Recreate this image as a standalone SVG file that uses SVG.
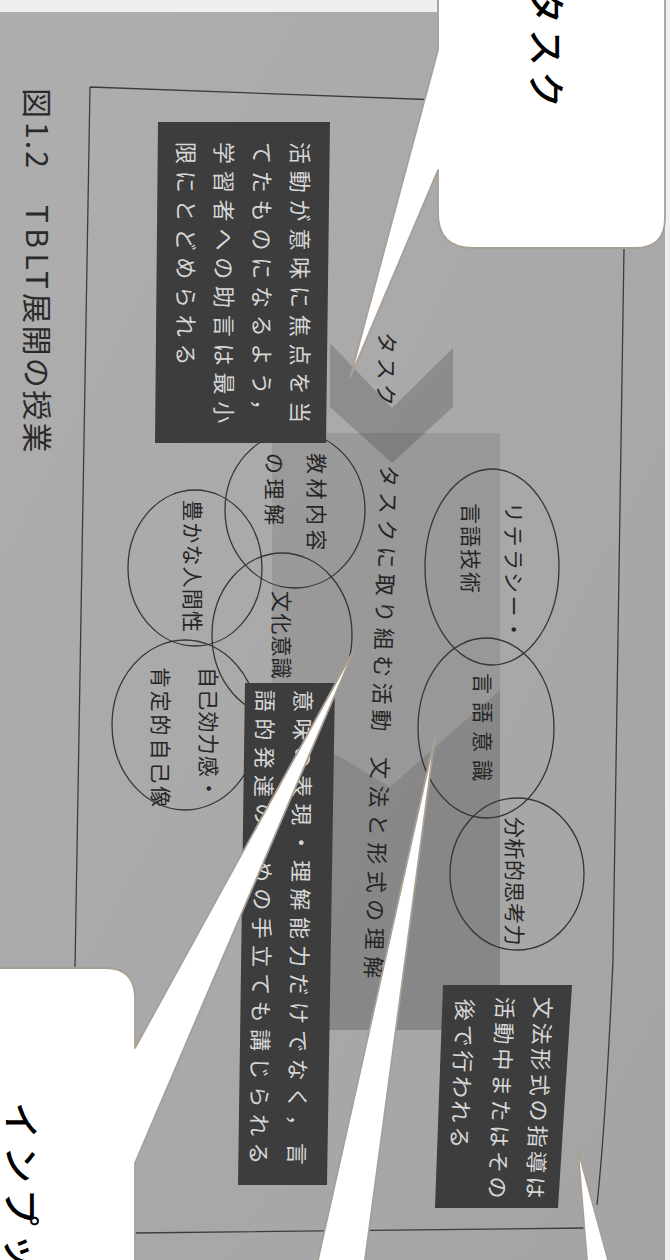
<svg xmlns="http://www.w3.org/2000/svg" width="670" height="1260" viewBox="0 0 670 1260">
<defs>
<linearGradient id="photo" x1="0" y1="0" x2="1" y2="1">
<stop offset="0" stop-color="#aeaeae"/><stop offset="1" stop-color="#a4a4a4"/>
</linearGradient>
<style>
.jp{font-family:"Noto Sans CJK JP","Noto Sans",sans-serif;dominant-baseline:central}
.frame{fill:none;stroke:#3c3c3c;stroke-width:1.3}
.ell{fill:none;stroke:#363636;stroke-width:1.3}
.box{fill:#3d3d3d}
.wt{fill:#d6d6d6;font-size:22px}
.dk{fill:#252525;font-size:22px}
.el{fill:#252525;font-size:21px}
.bub{fill:#fff;stroke:#a99f93;stroke-width:1.8;stroke-linejoin:round}
.bt{fill:#000;font-size:37px;font-weight:500}
</style>
</defs>
<g id="photo-bg">
<rect width="670" height="1260" fill="#efefef"/>
<rect x="0" y="12" width="665" height="1248" fill="url(#photo)"/>
</g>
<g id="page-frame">
<path class="frame" d="M90,87 L440,100 L625,107 M90,87 L75,968 M624,248 L613,960 Q606,1120 597,1205 M135,1233 L585,1228"/>
</g>
<g id="caption">
<text class="jp" fill="#2a2a2a" font-size="30" transform="translate(39,88) rotate(90)">図</text>
<text class="jp" fill="#2a2a2a" font-size="30" transform="translate(39,122) rotate(90)" textLength="46">1.2</text>
<text class="jp" fill="#2a2a2a" font-size="30" transform="translate(39,205) rotate(90)" textLength="84">TBLT</text>
<text class="jp" fill="#2a2a2a" font-size="30" transform="translate(39,293) rotate(90)" style="letter-spacing:2.4px">展開の授業</text>
</g>
<g id="band">
<rect x="272" y="433" width="228" height="597" fill="#000" fill-opacity="0.09"/>
<polygon points="272,716 390,787 500,690 500,1030 272,1030" fill="#000" fill-opacity="0.1"/>
</g>
<g id="chevron-task">
<polygon points="330,343 392,408 453,348 453,407 392,463 330,407" fill="#000" fill-opacity="0.17"/>
<text class="jp dk" font-size="21" transform="translate(389,332) rotate(91)" style="letter-spacing:4px">タスク</text>
</g>
<g id="activity-label">
<text class="jp dk" transform="translate(391,465) rotate(91.8)" style="letter-spacing:5.2px">タスクに取り組む活動</text>
<text class="jp dk" transform="translate(382,757) rotate(91.8)" style="letter-spacing:6.5px">文法と形式の理解</text>
</g>
<g id="node-kyozai">
<ellipse class="ell" cx="295" cy="510" rx="70" ry="78"/>
<text class="jp el" transform="translate(318,453) rotate(90)" style="letter-spacing:4.5px">教材内容</text>
<text class="jp el" transform="translate(276,453) rotate(90)" style="letter-spacing:4.5px">の理解</text>
</g>
<g id="node-ningensei">
<ellipse class="ell" cx="195" cy="568" rx="67" ry="78"/>
<text class="jp el" transform="translate(194,500) rotate(90)" style="letter-spacing:1.2px">豊かな人間性</text>
</g>
<g id="node-bunka">
<ellipse class="ell" cx="282" cy="635" rx="70" ry="82"/>
<text class="jp el" transform="translate(283,591) rotate(90)" style="letter-spacing:1.2px">文化意識</text>
</g>
<g id="node-jiko">
<ellipse class="ell" cx="185" cy="725" rx="73" ry="85"/>
<text class="jp el" transform="translate(210,667) rotate(90)" style="letter-spacing:1.2px">自己効力感・</text>
<text class="jp el" transform="translate(162,667) rotate(90)" style="letter-spacing:2.8px">肯定的自己像</text>
</g>
<g id="node-literacy">
<ellipse class="ell" cx="492" cy="567" rx="67" ry="98"/>
<text class="jp el" transform="translate(515,502) rotate(90)" style="letter-spacing:2.5px">リテラシー・</text>
<text class="jp el" transform="translate(472,503) rotate(90)" style="letter-spacing:2px">言語技術</text>
</g>
<g id="node-gengo">
<ellipse class="ell" cx="486" cy="728" rx="68" ry="90"/>
<text class="jp el" font-size="20" transform="translate(484,673) rotate(90)" style="letter-spacing:8px">言語意識</text>
</g>
<g id="node-bunseki">
<ellipse class="ell" cx="517" cy="874" rx="67" ry="76"/>
<text class="jp el" font-size="19" transform="translate(516,817) rotate(90)" style="letter-spacing:0.5px">分析的思考力</text>
</g>
<g id="box-advice">
<polygon class="box" points="158,122 330,122 326,443 155,443"/>
<text class="jp wt" transform="translate(302,142) rotate(90)" style="letter-spacing:6.8px">活動が意味に焦点を当</text>
<text class="jp wt" transform="translate(264,142) rotate(90)" style="letter-spacing:6.8px">てたものになるよう，</text>
<text class="jp wt" transform="translate(226,142) rotate(90)" style="letter-spacing:6.8px">学習者への助言は最小</text>
<text class="jp wt" transform="translate(188,142) rotate(90)" style="letter-spacing:6.8px">限にとどめられる</text>
</g>
<g id="box-development">
<polygon class="box" points="245,683 335,683 327,1185 238,1185"/>
<text class="jp wt" transform="translate(305,690) rotate(90.8)" style="letter-spacing:6.35px">意味の表現・理解能力だけでなく，言</text>
<text class="jp wt" transform="translate(267,690) rotate(90.8)" style="letter-spacing:6.35px">語的発達のための手立ても講じられる</text>
</g>
<g id="box-grammar">
<polygon class="box" points="443,985 572,985 558,1208 435,1208"/>
<text class="jp wt" font-size="21" transform="translate(545,997) rotate(92.3)" style="letter-spacing:3.7px">文法形式の指導は</text>
<text class="jp wt" font-size="21" transform="translate(507,997) rotate(92.3)" style="letter-spacing:3.7px">活動中またはその</text>
<text class="jp wt" font-size="21" transform="translate(467,999) rotate(92.3)" style="letter-spacing:3.7px">後で行われる</text>
</g>
<g id="connectors">
<g id="callout-task">
<path class="bub" d="M438,50 L350,378 L438,170 L438,213 Q438,248 473,248 L635,248 Q665,248 665,218 L665,-20 L438,-20 Z"/>
<text class="jp bt" transform="translate(548,-13) rotate(90)" style="letter-spacing:5px">タスク</text>
</g>
<g id="callout-input">
<path class="bub" d="M135,1048 L355,648 L135,1163 L135,1280 L-20,1280 L-20,968 L105,968 Q135,968 135,998 Z"/>
<text class="jp bt" transform="translate(23,1102) rotate(90)" style="letter-spacing:7px">インプッ</text>
</g>
<g id="callout-c">
<path class="bub" d="M313.5,1280 L435,737 L362.3,1280 Z"/>
</g>
<g id="callout-d">
<path class="bub" d="M588.6,1280 L578,1150 L613.5,1280 Z"/>
</g>
</g>
</svg>
